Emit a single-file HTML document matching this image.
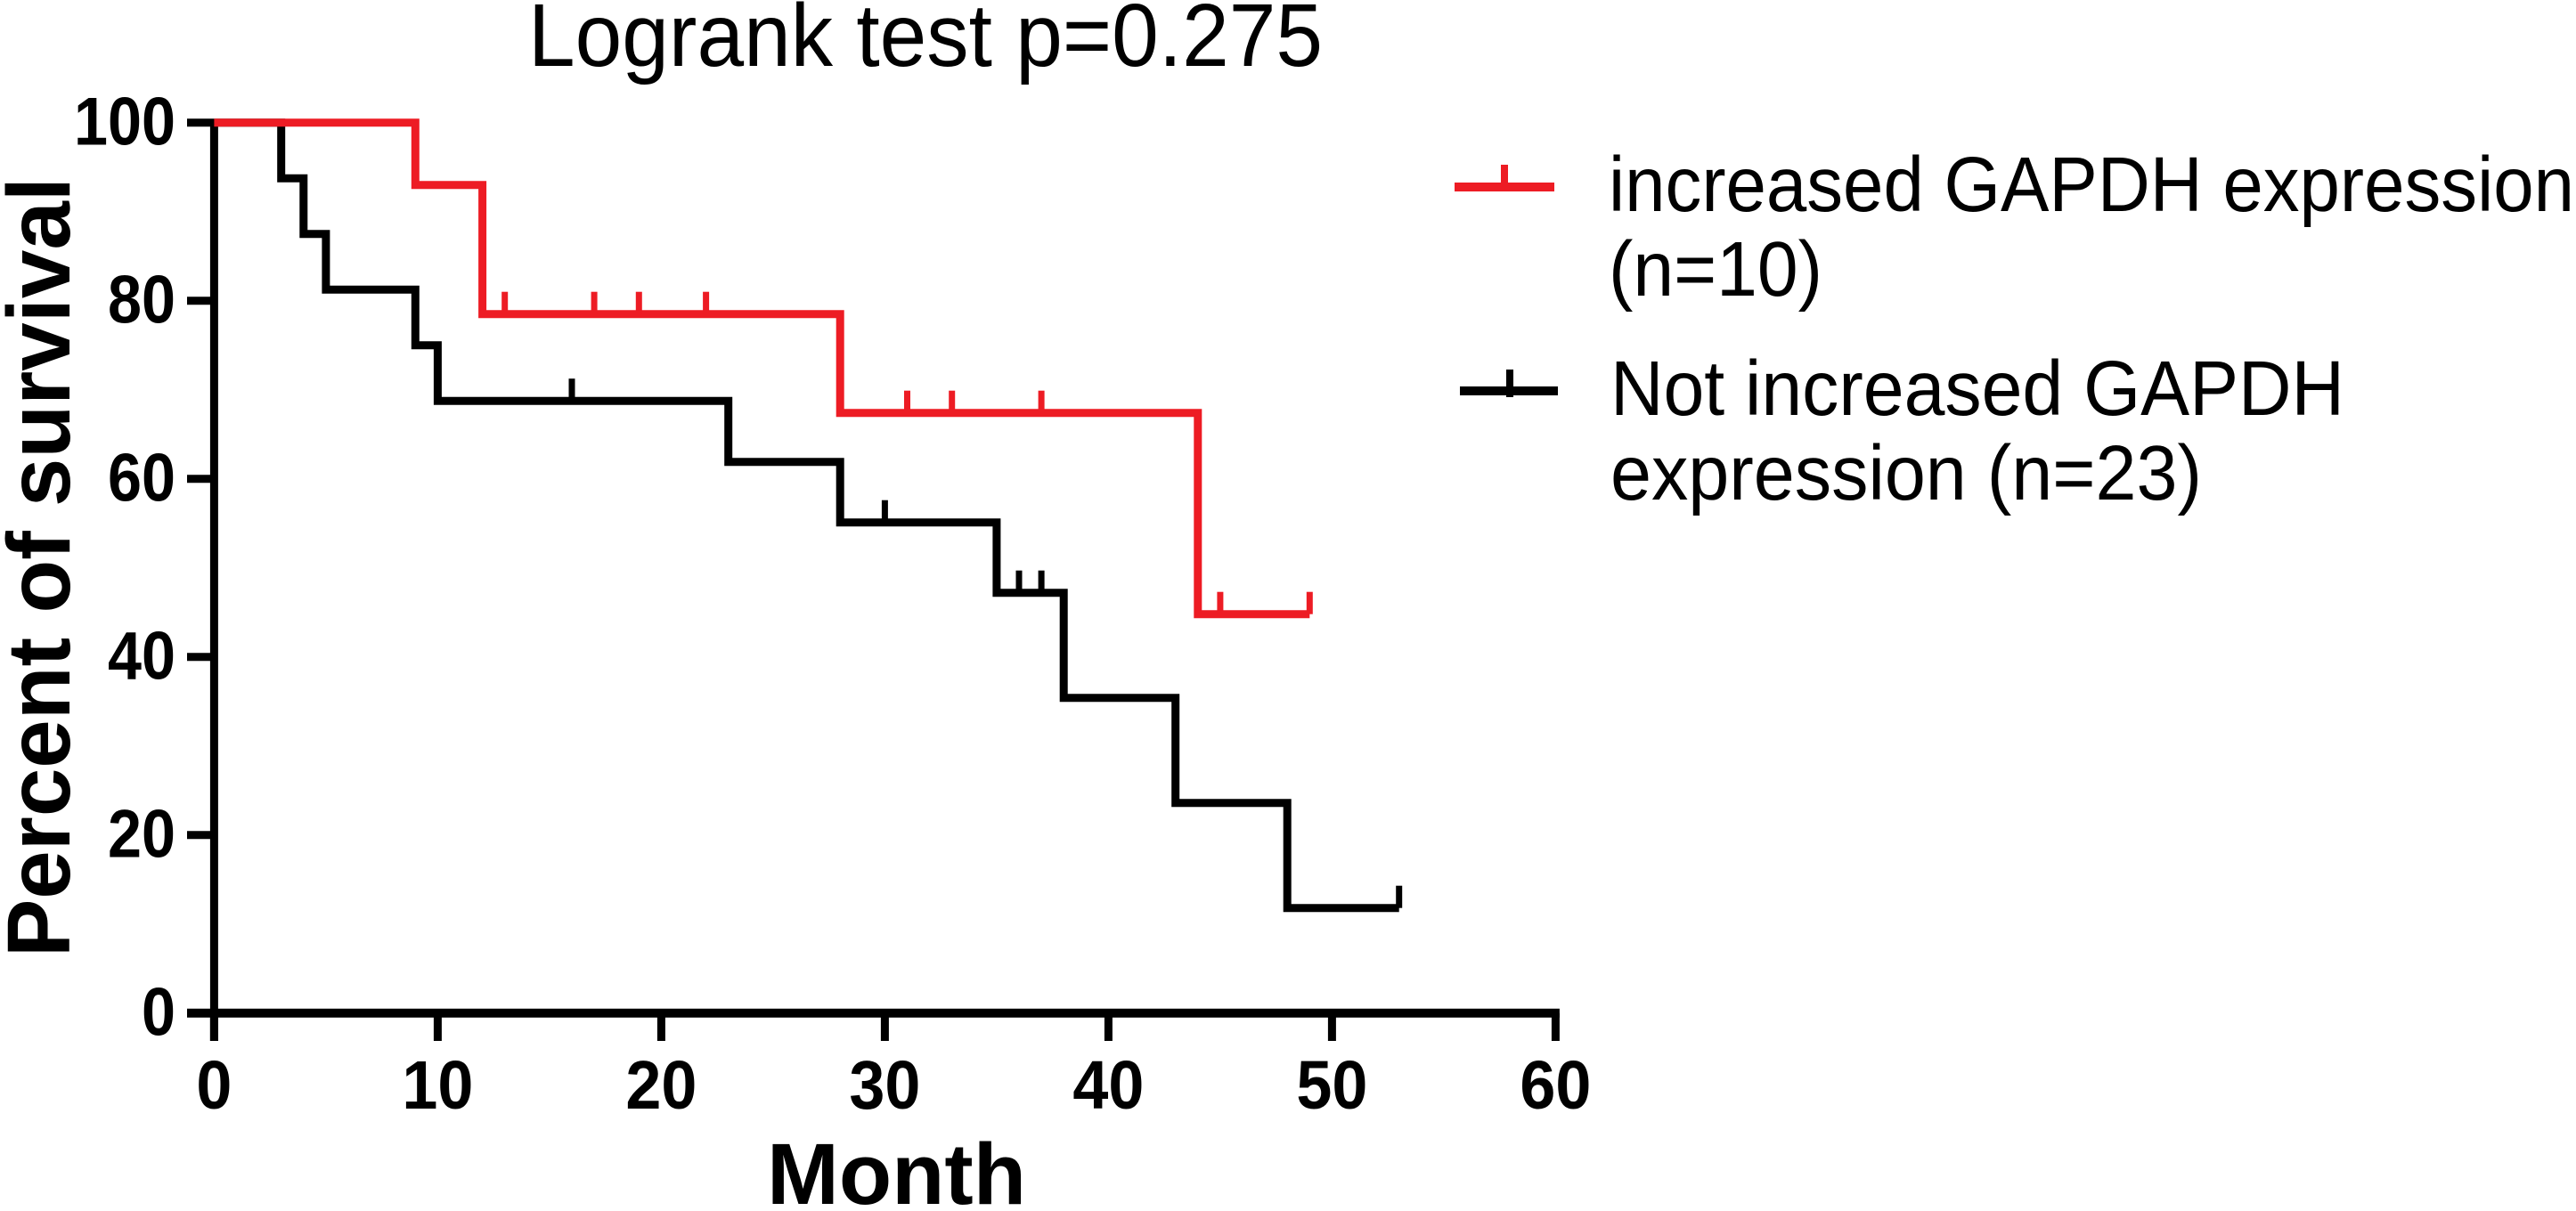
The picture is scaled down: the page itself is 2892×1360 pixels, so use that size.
<!DOCTYPE html>
<html lang="en">
<head>
<meta charset="utf-8">
<title>Logrank survival chart</title>
<style>
html,body{margin:0;padding:0;background:#fff;width:2892px;height:1360px;overflow:hidden}
svg{display:block}
text{font-family:"Liberation Sans",sans-serif;fill:#000}
.b{font-weight:700}
</style>
</head>
<body>
<svg id="chart" xmlns="http://www.w3.org/2000/svg" width="2892" height="1360" viewBox="0 0 2892 1360">
  <rect x="0" y="0" width="2892" height="1360" fill="#fff"/>
  <text x="593" y="74" font-size="100" textLength="892" lengthAdjust="spacingAndGlyphs">Logrank test p=0.275</text>
  <text class="b" transform="translate(78,1075) rotate(-90)" font-size="100" textLength="876" lengthAdjust="spacingAndGlyphs">Percent of survival</text>
  <text class="b" x="861" y="1352" font-size="97" textLength="291" lengthAdjust="spacingAndGlyphs">Month</text>
  <g id="axes"></g>
  <g id="series"></g>
  <g>
    <g>
      <line x1="1633" y1="210" x2="1745" y2="210" stroke="#ed1c24" stroke-width="10"/>
      <line x1="1689" y1="185" x2="1689" y2="210" stroke="#ed1c24" stroke-width="8"/>
      <text x="1806" y="237" font-size="87" textLength="1084" lengthAdjust="spacingAndGlyphs">increased GAPDH expression</text>
      <text x="1806" y="332" font-size="87" textLength="240" lengthAdjust="spacingAndGlyphs">(n=10)</text>
    </g>
    <g>
      <line x1="1639" y1="439" x2="1749" y2="439" stroke="#000" stroke-width="10"/>
      <line x1="1695" y1="415" x2="1695" y2="446" stroke="#000" stroke-width="8"/>
      <text x="1808" y="466" font-size="87" textLength="824" lengthAdjust="spacingAndGlyphs">Not increased GAPDH</text>
      <text x="1808" y="561" font-size="87" textLength="664" lengthAdjust="spacingAndGlyphs">expression (n=23)</text>
    </g>
  </g>
</svg>
<script>
const xTickLabels = [0, 10, 20, 30, 40, 50, 60];
const yTickLabels = [0, 20, 40, 60, 80, 100];

const increasedEventMonths = [0, 9, 12, 28, 44];
const increasedSurvival = [100, 93, 78.5, 67.4, 44.8];
const increasedEndMonth = 49;
const increasedCensorMonths = [13, 17, 19, 22, 31, 33, 37, 45, 49];

const notIncreasedEventMonths = [0, 3, 4, 5, 9, 10, 23, 28, 35, 38, 43, 48];
const notIncreasedSurvival = [100, 93.75, 87.5, 81.25, 75, 68.75, 61.9, 55.1, 47.2, 35.4, 23.6, 11.8];
const notIncreasedEndMonth = 53;
const notIncreasedCensorMonths = [16, 30, 36, 37, 53];

const NS = 'http://www.w3.org/2000/svg';
function xScale(m) { return 240.4 + m * 25.1; }
function yScale(v) { return 1137.7 - v * 10; }

function make(tag, attrs, parent) {
  const el = document.createElementNS(NS, tag);
  for (const k in attrs) el.setAttribute(k, attrs[k]);
  parent.appendChild(el);
  return el;
}

function survivalAt(months, values, m) {
  let s = values[0];
  for (let i = 0; i < months.length; i++) {
    if (months[i] <= m) s = values[i];
  }
  return s;
}

function stepPath(months, values, end) {
  let d = 'M' + xScale(months[0]) + ' ' + yScale(values[0]);
  for (let i = 1; i < months.length; i++) {
    d += ' H' + xScale(months[i]) + ' V' + yScale(values[i]);
  }
  d += ' H' + xScale(end);
  return d;
}

const axes = document.getElementById('axes');
const seriesGroup = document.getElementById('series');

const yAxisLine = make('line', { x1: xScale(0), y1: yScale(100) - 4, x2: xScale(0), y2: 1169, stroke: '#000', 'stroke-width': 9 }, axes);



const xAxisLine = make('line', { x1: 210, y1: yScale(0), x2: xScale(60) + 4.5, y2: yScale(0), stroke: '#000', 'stroke-width': 10 }, axes);



xTickLabels.forEach(function (t) {
  const mark = make('line', { x1: xScale(t), y1: yScale(0), x2: xScale(t), y2: 1169, stroke: '#000', 'stroke-width': 9 }, axes);
  
  
  const label = make('text', { x: xScale(t), y: 1245, 'font-size': 77, 'text-anchor': 'middle', 'class': 'b', textLength: String(t).length * 40, lengthAdjust: 'spacingAndGlyphs' }, axes);
  label.textContent = String(t);
  
  
});

yTickLabels.forEach(function (t) {
  const mark = make('line', { x1: 210, y1: yScale(t), x2: xScale(0), y2: yScale(t), stroke: '#000', 'stroke-width': 9 }, axes);
  
  
  const label = make('text', { x: 197, y: yScale(t) + 25, 'font-size': 76, 'text-anchor': 'end', 'class': 'b', textLength: String(t).length * 38, lengthAdjust: 'spacingAndGlyphs' }, axes);
  label.textContent = String(t);
  
  
});

const notIncreasedLine = make('path', { d: stepPath(notIncreasedEventMonths, notIncreasedSurvival, notIncreasedEndMonth), fill: 'none', stroke: '#000', 'stroke-width': 9, 'stroke-linejoin': 'miter' }, seriesGroup);



notIncreasedCensorMonths.forEach(function (m) {
  const s = survivalAt(notIncreasedEventMonths, notIncreasedSurvival, m);
  const c = make('line', { x1: xScale(m), y1: yScale(s) - 25, x2: xScale(m), y2: yScale(s), stroke: '#000', 'stroke-width': 7 }, seriesGroup);
  
  
});

const increasedLine = make('path', { d: stepPath(increasedEventMonths, increasedSurvival, increasedEndMonth), fill: 'none', stroke: '#ed1c24', 'stroke-width': 9, 'stroke-linejoin': 'miter' }, seriesGroup);



increasedCensorMonths.forEach(function (m) {
  const s = survivalAt(increasedEventMonths, increasedSurvival, m);
  const c = make('line', { x1: xScale(m), y1: yScale(s) - 25, x2: xScale(m), y2: yScale(s), stroke: '#ed1c24', 'stroke-width': 7 }, seriesGroup);
  
  
});
</script>
</body>
</html>
